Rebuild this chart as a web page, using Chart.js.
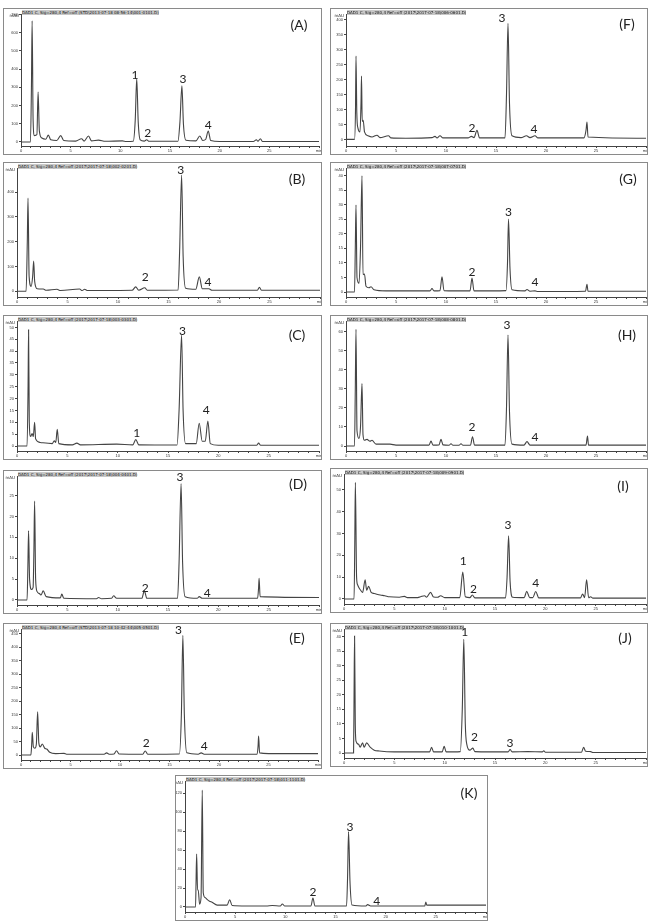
<!DOCTYPE html>
<html>
<head>
<meta charset="utf-8">
<script src="https://cdn.jsdelivr.net/npm/chart.js@4.4.1/dist/chart.umd.min.js"></script>
<style>
  body { margin: 0; width: 653px; height: 924px; background: #fff; position: relative; overflow: hidden; font-family: Lato, sans-serif; }
  .panel { position: absolute; border: 1px solid #8a8a8a; box-sizing: border-box; background: #fff; }
  .panel canvas { position: absolute; left: 0; top: 0; }
  .hdr { position: absolute; top: 1px; font: 4px "DejaVu Sans"; line-height: 5px; color: #111; background: #c8c8c8; white-space: nowrap; }
  .tag { position: absolute; font: 14px Lato; color: #222; transform: translate(-50%, -50%); }
</style>
</head>
<body>
<script>
// retention time (min) / signal pairs
const traceA = [[0,0],[0.95,0],[1.05,300],[1.12,665],[1.22,120],[1.35,35],[1.6,40],[1.72,275],[1.85,60],[2.1,22],[2.5,15],[2.75,38],[3.0,12],[3.6,8],[4.0,35],[4.3,8],[5.5,5],[6.1,18],[6.35,5],[6.8,33],[7.1,6],[7.8,10],[8.5,4],[10.2,6],[10.6,3],[11.3,4],[11.5,120],[11.65,348],[11.8,110],[12.0,12],[12.4,5],[12.65,12],[12.9,4],[15.8,4],[16.0,110],[16.2,308],[16.35,100],[16.6,10],[17.6,6],[18.0,33],[18.3,8],[18.6,15],[18.85,60],[19.1,8],[20,3],[23.4,3],[23.7,12],[23.85,4],[24.1,18],[24.3,3],[30,3]];
const traceB = [[0,0],[0.9,0],[1.02,200],[1.09,376],[1.2,60],[1.4,20],[1.55,60],[1.65,122],[1.75,40],[2.0,10],[2.6,9],[2.9,4],[3.96,8],[4.3,3],[6.2,9],[6.45,3],[6.7,8],[7.0,3],[8.5,3],[11.4,4],[11.75,18],[12.05,4],[12.65,14],[12.9,4],[15.95,5],[16.1,160],[16.3,469],[16.45,140],[16.7,12],[17.7,8],[18.05,58],[18.35,10],[19.0,10],[19.3,4],[23.8,4],[24.0,16],[24.2,4],[30,4]];
const traceC = [[0,0],[1.0,0],[1.1,25],[1.15,49],[1.22,10],[1.35,4],[1.5,5.3],[1.62,4],[1.75,10],[1.85,3],[2.3,1.5],[3.5,1],[3.7,2.2],[3.85,1.5],[4.0,7],[4.15,1],[5.5,0.5],[5.95,1.2],[6.3,0.5],[9.9,0.8],[11.5,0.5],[11.8,2.7],[12.1,0.5],[15.9,0.4],[16.1,15],[16.35,46.8],[16.5,15],[16.75,1],[17.8,1],[18.1,9.6],[18.4,2],[18.7,2],[18.96,10.5],[19.2,1],[20,0.3],[23.8,0.3],[24.0,1.2],[24.2,0.3],[30,0.3]];
const traceD = [[0,0],[1.0,0],[1.08,8],[1.15,16.6],[1.25,5],[1.45,2.5],[1.6,3],[1.68,12],[1.75,23.7],[1.85,5],[2.0,2],[2.25,1.5],[2.4,1.2],[2.6,2.2],[2.9,0.8],[4.3,0.5],[4.45,1.4],[4.65,0.4],[7.9,0.3],[8.1,0.6],[8.4,0.3],[9.4,0.4],[9.6,1.0],[9.9,0.4],[12.4,0.4],[12.65,2.2],[12.9,0.4],[15.95,0.4],[16.1,9],[16.3,27.9],[16.45,9],[16.7,0.8],[17.9,0.4],[18.1,0.8],[18.4,0.4],[23.9,0.4],[24.0,3],[24.05,5.2],[24.15,0.8],[30,0.6]];
const traceE = [[0,0],[1.0,0],[1.08,40],[1.14,84],[1.25,30],[1.4,25],[1.55,40],[1.68,160],[1.8,45],[1.95,30],[2.15,41],[2.4,25],[2.6,22],[2.9,10],[3.5,5],[4.35,6],[4.6,3],[8.4,3],[8.65,8],[8.9,3],[9.4,4],[9.65,16],[9.9,4],[12.3,3],[12.55,15],[12.8,3],[16.0,4],[16.2,150],[16.35,444],[16.5,150],[16.75,8],[17.9,3],[18.2,8],[18.5,3],[23.85,3],[23.95,35],[24.0,70],[24.1,8],[25,5],[30,5]];
const traceF = [[0,0],[0.85,0],[0.95,100],[1.0,278],[1.08,90],[1.2,37],[1.4,25],[1.5,120],[1.55,211],[1.62,60],[1.72,64],[1.85,25],[2.2,12],[2.6,8],[3.1,14],[3.4,6],[4.25,12],[4.5,5],[6,4],[8.6,6],[8.9,10],[9.1,5],[9.4,12],[9.7,5],[12.2,5],[12.55,10],[12.8,6],[13.1,30],[13.35,5],[15.9,5],[16.05,150],[16.2,387],[16.35,120],[16.6,12],[17.5,6],[18.05,12],[18.4,6],[18.9,12],[19.2,5],[23.8,5],[24.0,30],[24.1,58],[24.2,8],[30,4]];
const traceG = [[0,0],[0.85,0],[0.93,15],[1.0,29.9],[1.1,5],[1.3,3],[1.45,15],[1.6,39.9],[1.7,6],[1.85,6.2],[2.0,2],[2.3,1.5],[2.5,1.8],[2.8,0.8],[4,0.4],[8.4,0.4],[8.6,1.2],[8.8,0.4],[9.4,0.5],[9.6,5.2],[9.8,0.5],[12.4,0.4],[12.6,4.8],[12.8,0.4],[16.0,0.5],[16.15,10],[16.25,25.1],[16.4,8],[16.6,0.8],[17.9,0.4],[18.1,0.9],[18.4,0.3],[18.9,0.4],[19.2,0.2],[23.95,0.3],[24.1,2.7],[24.2,0.3],[30,0.3]];
const traceH = [[0,0],[0.85,0],[0.93,30],[1.0,61.1],[1.1,8],[1.3,4],[1.45,10],[1.6,32.7],[1.7,6],[1.85,3],[2.1,3.5],[2.4,2.5],[2.6,3],[3,1],[4.4,1],[5,0.5],[8.3,0.5],[8.5,2.6],[8.7,0.5],[9.3,0.6],[9.5,3.5],[9.7,0.6],[10.3,0.4],[10.5,1.2],[10.7,0.4],[11.3,0.4],[11.5,1.2],[11.7,0.4],[12.45,0.5],[12.65,4.9],[12.85,0.5],[15.9,0.5],[16.05,20],[16.2,58.2],[16.35,18],[16.6,1],[17.8,0.5],[18.1,2.3],[18.4,0.5],[24.0,0.5],[24.15,5.2],[24.25,0.5],[30,0.5]];
const traceI = [[0,0],[1.0,0],[1.07,25],[1.13,53.4],[1.25,10],[1.35,6.5],[1.5,5],[1.65,4],[1.85,3],[2.1,8.8],[2.25,4],[2.45,5.8],[2.7,3],[3.0,2.5],[3.6,1.8],[4.05,1.5],[4.5,1],[5.5,0.8],[6.0,1.2],[6.3,0.6],[7.2,0.6],[7.6,1],[8.0,1.5],[8.2,0.8],[8.6,3.0],[8.9,0.9],[9.3,0.8],[9.6,1.5],[10.0,0.6],[11.5,0.6],[11.8,12.3],[12.05,1],[12.5,0.6],[12.75,1.8],[13.0,0.5],[16.05,0.5],[16.2,10],[16.35,28.9],[16.5,8],[16.75,0.8],[17.9,0.6],[18.15,3.5],[18.45,0.6],[18.75,0.6],[19.05,3.4],[19.35,0.5],[23.5,0.5],[23.7,2.3],[23.9,0.6],[24.1,8.8],[24.3,0.6],[24.5,1],[24.7,0.4],[30,0.4]];
const traceJ = [[0,0],[0.95,0],[1.0,20],[1.05,40.2],[1.12,10],[1.2,4],[1.45,3],[1.6,2],[1.85,3.5],[2.0,2],[2.25,3.5],[2.6,2],[3.0,1],[3.5,0.7],[5,0.4],[8.5,0.4],[8.7,2.0],[8.9,0.4],[9.75,0.4],[9.95,2.3],[10.15,0.4],[11.55,0.5],[11.75,15],[11.9,39.1],[12.05,10],[12.2,3],[12.5,1],[12.8,1.7],[13.0,0.5],[16.3,0.4],[16.5,1.2],[16.7,0.4],[18.25,0.5],[19.7,0.4],[19.85,0.8],[20.0,0.3],[23.6,0.3],[23.8,2.0],[24.0,0.6],[24.5,0.5],[24.7,0.2],[30,0.2]];
const traceK = [[0,0],[1.05,0],[1.1,25],[1.16,55.8],[1.25,18],[1.32,18],[1.45,3],[1.6,10],[1.72,123.5],[1.82,15],[2.0,10],[2.2,8],[2.45,6],[2.7,5],[3.2,2],[4.2,2],[4.45,7.7],[4.7,1.5],[6.1,1],[8.1,1],[8.7,1.5],[9.5,1],[9.7,3.2],[9.95,1],[12.55,1],[12.75,9.5],[12.95,1],[16.1,1],[16.2,30],[16.3,79.6],[16.45,25],[16.65,2],[18.0,1],[18.2,2.5],[18.5,1],[23.9,1],[24.0,5.3],[24.1,2],[30,2]];

// peak numbers: [time, signal, label]
const peaksA = [[11.48,368,'1'],[12.75,48,'2'],[16.3,346,'3'],[18.85,93,'4']];
const peaksB = [[12.7,58,'2'],[16.2,489,'3'],[18.9,38,'4']];
const peaksC = [[11.9,5.6,'1'],[16.45,48.6,'3'],[18.8,15.2,'4']];
const peaksD = [[12.75,2.9,'2'],[16.2,29.5,'3'],[18.9,1.75,'4']];
const peaksE = [[12.65,43,'2'],[15.9,462,'3'],[18.5,33,'4']];
const peaksF = [[12.6,39,'2'],[15.6,404,'3'],[18.8,34,'4']];
const peaksG = [[12.6,6.85,'2'],[16.25,27.6,'3'],[18.9,3.4,'4']];
const peaksH = [[12.6,10.1,'2'],[16.1,63.4,'3'],[18.9,4.9,'4']];
const peaksI = [[11.85,17.2,'1'],[12.85,4.7,'2'],[16.3,33.9,'3'],[19.05,7.3,'4']];
const peaksJ = [[12.0,41.6,'1'],[12.95,5.5,'2'],[16.5,3.4,'3']];
const peaksK = [[12.75,15.4,'2'],[16.45,84.8,'3'],[19.1,5.9,'4']];

const panels = [
  { tag: '(A)', trace: traceA, peaks: peaksA, box: [3, 8, 319, 147], yw: 18, pr: 2, yMin: -22, yMax: 703, step: 100, tagAt: [299, 24], hdr: 'DAD1 C, Sig=280,4 Ref=off (STD\\2013-07-18 08-56-14\\001-0101.D)' },
  { tag: '(B)', trace: traceB, peaks: peaksB, box: [3, 162, 319, 144], yw: 14, pr: 1, yMin: -23, yMax: 497, step: 100, tagAt: [297, 178], hdr: 'DAD1 C, Sig=280,4 Ref=off (2017\\2017-07-18\\002-0201.D)' },
  { tag: '(C)', trace: traceC, peaks: peaksC, box: [3, 315, 319, 145], yw: 14, pr: 2, yMin: -2.1, yMax: 52.7, step: 5, tagAt: [297, 334], hdr: 'DAD1 C, Sig=280,4 Ref=off (2017\\2017-07-18\\003-0301.D)' },
  { tag: '(D)', trace: traceD, peaks: peaksD, box: [3, 470, 319, 144], yw: 14, pr: 2, yMin: -1.2, yMax: 29.7, step: 5, tagAt: [298, 483], hdr: 'DAD1 C, Sig=280,4 Ref=off (2017\\2017-07-18\\004-0401.D)' },
  { tag: '(E)', trace: traceE, peaks: peaksE, box: [3, 623, 319, 146], yw: 18, pr: 3, yMin: -18.5, yMax: 467, step: 50, tagAt: [297, 637], hdr: 'DAD1 C, Sig=280,4 Ref=off (STD\\2013-07-18 10-42-44\\005-0501.D)' },
  { tag: '(F)', trace: traceF, peaks: peaksF, box: [330, 8, 318, 147], yw: 16, pr: 1, yMin: -22, yMax: 418, step: 50, tagAt: [627, 23], hdr: 'DAD1 C, Sig=280,4 Ref=off (2017\\2017-07-18\\006-0601.D)' },
  { tag: '(G)', trace: traceG, peaks: peaksG, box: [330, 162, 318, 144], yw: 16, pr: 1, yMin: -1.7, yMax: 42.6, step: 5, tagAt: [628, 178], hdr: 'DAD1 C, Sig=280,4 Ref=off (2017\\2017-07-18\\007-0701.D)' },
  { tag: '(H)', trace: traceH, peaks: peaksH, box: [330, 315, 318, 145], yw: 16, pr: 1, yMin: -2.6, yMax: 65.5, step: 10, tagAt: [627, 334], hdr: 'DAD1 C, Sig=280,4 Ref=off (2017\\2017-07-18\\008-0801.D)' },
  { tag: '(I)', trace: traceI, peaks: peaksI, box: [330, 468, 318, 145], yw: 14, pr: 1, yMin: -2.3, yMax: 57.2, step: 10, tagAt: [623, 485], hdr: 'DAD1 C, Sig=280,4 Ref=off (2017\\2017-07-18\\009-0901.D)' },
  { tag: '(J)', trace: traceJ, peaks: peaksJ, box: [330, 623, 318, 144], yw: 14, pr: 1, yMin: -1.7, yMax: 42.6, step: 5, tagAt: [625, 637], hdr: 'DAD1 C, Sig=280,4 Ref=off (2017\\2017-07-18\\010-1001.D)' },
  { tag: '(K)', trace: traceK, peaks: peaksK, box: [175, 775, 313, 146], yw: 10, pr: 1, yMin: -5.3, yMax: 133, step: 20, tagAt: [469, 792], hdr: 'DAD1 C, Sig=280,4 Ref=off (2017\\2017-07-18\\011-1101.D)' }
];

function makePanel(p) {
  const [bx, by, bw, bh] = p.box;
  const div = document.createElement('div');
  div.className = 'panel';
  div.style.left = bx + 'px';
  div.style.top = by + 'px';
  div.style.width = bw + 'px';
  div.style.height = bh + 'px';
  const hdr = document.createElement('div');
  hdr.className = 'hdr';
  hdr.style.left = (p.yw) + 'px';
  hdr.textContent = p.hdr;
  div.appendChild(hdr);
  const cv = document.createElement('canvas');
  cv.width = bw - 2;
  cv.height = bh - 2;
  div.appendChild(cv);
  document.body.appendChild(div);

  const tag = document.createElement('div');
  tag.className = 'tag';
  tag.style.left = p.tagAt[0] + 'px';
  tag.style.top = p.tagAt[1] + 'px';
  tag.textContent = p.tag;
  document.body.appendChild(tag);

  const peakLabels = {
    id: 'peakLabels',
    afterDatasetsDraw(chart) {
      const { ctx, scales: { x, y } } = chart;
      ctx.save();
      ctx.fillStyle = '#222';
      ctx.font = '12px Lato';
      ctx.textAlign = 'center';
      ctx.textBaseline = 'middle';
      p.peaks.forEach(([t, v, s]) => {
        ctx.fillText(s, x.getPixelForValue(t), y.getPixelForValue(v));
      });
      ctx.font = '4px "DejaVu Sans"';
      ctx.textAlign = 'right';
      ctx.fillText('mAU', x.left - 2, y.top + 2);
      ctx.restore();
    }
  };

  new Chart(cv, {
    type: 'line',
    data: {
      datasets: [{
        data: p.trace.map(([t, v]) => ({ x: t, y: v })),
        borderColor: '#444',
        borderWidth: 1.1,
        pointRadius: 0,
        cubicInterpolationMode: 'monotone',
        fill: false
      }]
    },
    options: {
      responsive: false,
      animation: false,
      events: [],
      layout: { padding: { top: 5, right: p.pr, left: 0, bottom: 0 } },
      plugins: { legend: { display: false }, tooltip: { enabled: false } },
      scales: {
        x: {
          type: 'linear', min: 0, max: 30,
          ticks: {
            stepSize: 1, autoSkip: false, maxRotation: 0, padding: 0,
            font: { size: 4 }, color: '#333',
            callback: v => (v % 5 ? '' : (v === 30 ? 'min' : v))
          },
          grid: { drawOnChartArea: false, tickLength: 2, color: '#444' },
          border: { color: '#444' },
          afterFit: s => { s.height = 8; s.paddingLeft = 0; s.paddingRight = 0; }
        },
        y: {
          min: p.yMin, max: p.yMax,
          ticks: { stepSize: p.step, includeBounds: false, padding: 1, font: { size: 4 }, color: '#333' },
          grid: { drawOnChartArea: false, tickLength: 2, color: '#444' },
          border: { color: '#444' },
          afterFit: s => { s.width = p.yw - 1; s.paddingTop = 0; s.paddingBottom = 0; }
        }
      }
    },
    plugins: [peakLabels]
  });
}

panels.forEach(makePanel);
</script>
</body>
</html>
